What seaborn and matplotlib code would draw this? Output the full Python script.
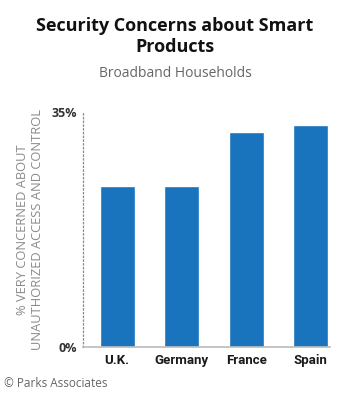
import pandas as pd
import seaborn as sns
import matplotlib.pyplot as plt

# Chart data
countries = ['U.K.', 'Germany', 'France', 'Spain']
pct_concerned = [24, 24, 32, 33]

df = pd.DataFrame({'country': countries, 'pct': pct_concerned})

sns.set_style('white')
plt.rcParams['font.family'] = ['Open Sans', 'DejaVu Sans']

fig = plt.figure(figsize=(3.5, 4), dpi=100)
ax = fig.add_axes([83 / 350, 53 / 400, 247 / 350, 235 / 400])

sns.barplot(x='country', y='pct', data=df, color='#1a73bd', saturation=1,
            width=0.54, ax=ax)

ax.set_ylim(0, 35)
ax.set_xlim(-0.53, 3.3)
ax.set_yticks([0, 35])
ax.set_yticklabels(['0%', '35%'], fontsize=9, fontweight='bold', color='#333333')
ax.set_xticks(range(len(countries)))
ax.set_xticklabels(countries, fontsize=9.5, fontweight='bold', color='#1a1a1a',
                   family=['Roboto', 'DejaVu Sans'])
ax.tick_params(axis='both', length=0, pad=4)
ax.tick_params(axis='x', pad=5)
ax.set_xlabel('')
ax.set_ylabel('% VERY CONCERNED ABOUT\nUNAUTHORIZED ACCESS AND CONTROL',
              fontsize=9.3, color='#8a8a8a', labelpad=6, linespacing=1.15)

for side in ['top', 'right']:
    ax.spines[side].set_visible(False)
ax.spines['left'].set_linestyle((0, (1, 2)))
ax.spines['left'].set_color('#888888')
ax.spines['left'].set_linewidth(0.9)
ax.spines['bottom'].set_color('#bbbbbb')
ax.spines['bottom'].set_linewidth(1.2)

# Titles and footer
fig.text(0.5, 0.958, 'Security Concerns about Smart\nProducts', ha='center', va='top',
         fontsize=13, fontweight='bold', color='#111111', linespacing=1.2)
fig.text(0.5, 0.835, 'Broadband Households', ha='center', va='top',
         fontsize=10, color='#666666')
fig.text(0.012, 0.025, '\u00a9 Parks Associates', ha='left', va='bottom',
         fontsize=8.5, color='#666666')

plt.savefig('out.png', dpi=100)
